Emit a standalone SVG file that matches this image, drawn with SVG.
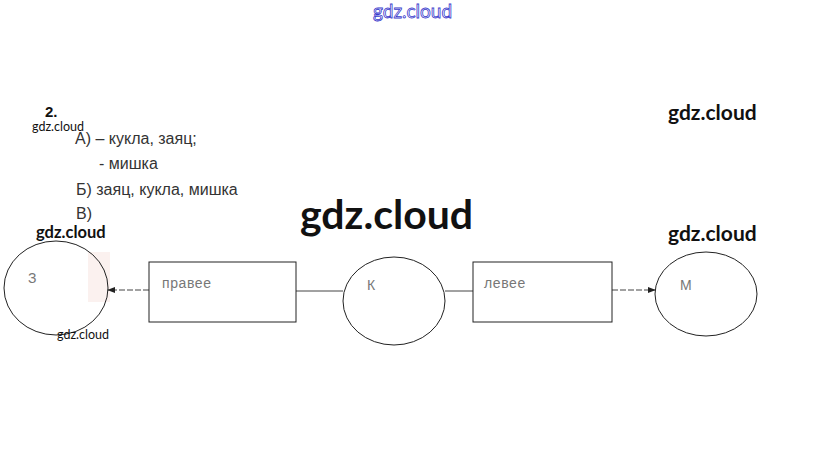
<svg xmlns="http://www.w3.org/2000/svg" width="823" height="451" viewBox="0 0 823 451">
<style>
.wm{font-family:Lato,"Open Sans",sans-serif;fill:#111;}
.list{font-family:"Liberation Sans",Arial,sans-serif;font-size:16px;fill:#333;}
.lbl{font-family:"Liberation Sans",Arial,sans-serif;font-size:14px;fill:#777;letter-spacing:0.6px;}
.node{fill:none;stroke:#222;stroke-width:1;}
.edge{fill:none;stroke:#444;stroke-width:1;}
</style>
<defs>
<marker id="ah" viewBox="0 0 10 10" refX="9" refY="5" markerWidth="8" markerHeight="8" orient="auto-start-reverse" markerUnits="userSpaceOnUse">
<path d="M0,1 L10,5 L0,9 z" fill="#222"/>
</marker>
</defs>
<rect width="823" height="451" fill="#fff"/>
<rect x="88" y="252" width="22" height="50" fill="#fbf1ef"/>
<text x="373" y="18" font-family="Lato,'Open Sans',sans-serif" font-size="19" fill="#fff" stroke="#3a3acc" stroke-width="0.8">gdz.cloud</text>
<text x="45" y="117" font-family="'Liberation Sans',Arial,sans-serif" font-size="15" font-weight="bold" fill="#111">2.</text>
<text class="list" x="75" y="144">А) – кукла, заяц;</text>
<text class="list" x="99" y="169">- мишка</text>
<text class="list" x="76" y="195">Б) заяц, кукла, мишка</text>
<text class="list" x="76" y="219">В)</text>
<text class="wm" x="32" y="131" font-size="12.5">gdz.cloud</text>
<text class="wm" x="300" y="229" font-size="41" font-weight="bold">gdz.cloud</text>
<text class="wm" x="668" y="120" font-size="21" font-weight="bold">gdz.cloud</text>
<text class="wm" x="668" y="241" font-size="21" font-weight="bold">gdz.cloud</text>
<text class="wm" x="36" y="238" font-size="16.5" font-weight="bold">gdz.cloud</text>
<g id="connectors">
<line class="edge" x1="149" y1="290" x2="108" y2="290" stroke-dasharray="6,2" marker-end="url(#ah)"/>
<line class="edge" x1="296" y1="291" x2="343" y2="291"/>
<line class="edge" x1="445" y1="291" x2="473" y2="291"/>
<line class="edge" x1="612" y1="290" x2="655" y2="290" stroke-dasharray="6,2" marker-end="url(#ah)"/>
</g>
<g id="node-z">
<ellipse class="node" cx="56" cy="288" rx="52" ry="47"/>
<text class="lbl" x="28" y="283" fill="#333" font-size="15">З</text>
</g>
<g id="node-pravee">
<rect class="node" x="149" y="262" width="147" height="60"/>
<text class="lbl" x="162" y="288">правее</text>
</g>
<g id="node-k">
<ellipse class="node" cx="394" cy="301" rx="51" ry="44"/>
<text class="lbl" x="367" y="290">К</text>
</g>
<g id="node-levee">
<rect class="node" x="473" y="262" width="139" height="60"/>
<text class="lbl" x="484" y="288">левее</text>
</g>
<g id="node-m">
<ellipse class="node" cx="706" cy="294" rx="51" ry="42"/>
<text class="lbl" x="680" y="290" font-size="15">М</text>
</g>
<text class="wm" x="57" y="339" font-size="12.5">gdz.cloud</text>
</svg>
